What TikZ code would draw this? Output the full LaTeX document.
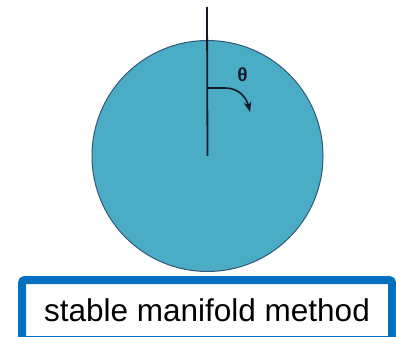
\documentclass[tikz,border=0pt]{standalone}
\usepackage{fontspec}
\setmainfont{Liberation Sans}
\usetikzlibrary{arrows.meta, positioning}
\definecolor{discfill}{RGB}{75,172,198}
\definecolor{discedge}{RGB}{52,88,118}
\definecolor{boxblue}{RGB}{0,112,192}
\definecolor{axisink}{RGB}{22,26,38}

\begin{document}
\begin{tikzpicture}[
    x=1pt, y=-1pt,
    disc/.style={circle, draw=discedge, line width=1pt, fill=discfill,
                 minimum size=231pt, inner sep=0pt},
    axis/.style={draw=axisink, line width=1.8pt},
    label box/.style={draw=boxblue, line width=8pt, fill=white,
                      rounded corners=3pt, minimum width=370pt,
                      minimum height=60pt, inner sep=0pt,
                      font=\fontsize{31.5}{36}\selectfont},
    >=Stealth
  ]
  \useasboundingbox (0,0) rectangle (396,337);

  \node[disc] (disc) at (207.5,156) {};

  % vertical axis and rotation angle
  \coordinate (top) at (207,7);
  \coordinate (bend) at (207,88);
  \coordinate (tip) at (250,112);
  \draw[axis] (disc.center) -- (top);
  \draw[axis, ->, line width=1.6pt] (bend) -- ++(18,0)
    .. controls ++(16,0) and ++(-3,-12) .. (tip);
  \node[font=\fontsize{19}{22}\selectfont\bfseries, text=axisink]
    (theta) at (242.5,75) {θ};

  % caption box (cut by the picture edge)
  \node[label box] (caption) at (207,310) {stable manifold method};
\end{tikzpicture}
\end{document}
